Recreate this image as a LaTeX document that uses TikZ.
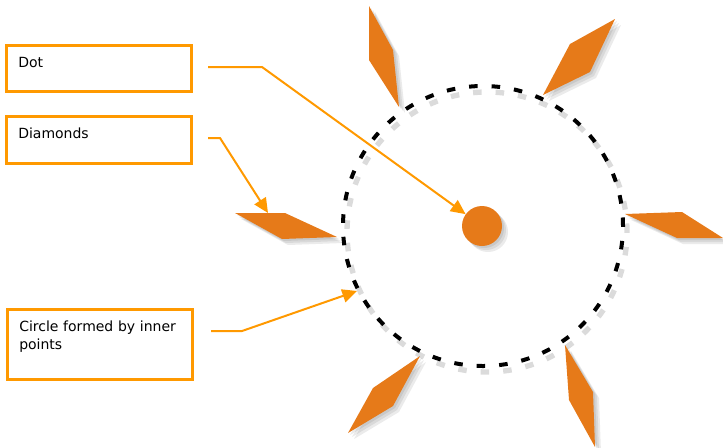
\documentclass[tikz,border=0pt]{standalone}
\usepackage{fontspec}
\setmainfont{DejaVu Sans}
\usetikzlibrary{arrows.meta}
\definecolor{boxorange}{RGB}{255,153,0}
\definecolor{gemorange}{RGB}{230,122,25}
\tikzset{
  labelbox/.style={
    draw = boxorange,
    line width = 1.9pt,
    anchor = north west,
    inner xsep = 9pt,
    inner ysep = 9pt,
    text width = 121pt,
    align = left,
    text height = 8pt,
    font = \fontsize{10.5}{13.5}\selectfont
  },
  pointer/.style={
    draw = boxorange,
    line width = 1.5pt,
    -{Triangle[length=11pt,width=10pt]}
  },
  gem/.style={
    fill = gemorange
  },
  gemshadow/.style={
    fill = black,
    opacity = 0.08
  },
  ring/.style={
    line width = 3pt,
    dash pattern = on 6.4pt off 10.5pt
  }
}

\begin{document}
\begin{tikzpicture}[x=0.75pt,y=-0.75pt]
        \useasboundingbox (0,0) rectangle (723,447);
        % dashed ring
        \draw[ring, black!14, line width=4pt, shift={(4,6)}] (483,226) circle[radius=105pt];
        \draw[ring] (483,226) circle[radius=105pt];
        % diamonds
        \foreach \ax/\ay/\bx/\by/\cx/\cy/\dx/\dy in {369/6/393/50/399/107/369/60,
                615/19/570/44/543/95/590/72, 625/214/682/212/723/238/677/238,
                235/213/285/213/337/237/282/239, 420/356/393/406/348/433/373/388,
                565/345/593/392/595/447/569/400}{
                \foreach \s in {2,4,6}{
                        \fill[gemshadow, shift={(\s,\s)}] (\ax,\ay) -- (\bx,\by) -- (\cx,\cy) -- (\dx,\dy) -- cycle;
                    }
                \fill[gem] (\ax,\ay) -- (\bx,\by) -- (\cx,\cy) -- (\dx,\dy) -- cycle;
            }
        % dot
        \foreach \s in {2,4,6}{
                \fill[gemshadow] (482+\s,226+\s) circle[radius=15pt];
            }
        \node[gem, circle, minimum size=30pt, inner sep=0pt] (dot) at (482,226) {};
        % labels
        \node[labelbox, text depth=8.5pt] (dotbox) at (5,44) {Dot};
        \node[labelbox, text depth=9.25pt] (gembox) at (5,115) {Diamonds};
        \node[labelbox, text depth=26.5pt] (ringbox) at (6,308) {Circle formed by inner points};
        % pointers
        \coordinate (dotfrom) at (208,67);
        \coordinate (dotbend) at (262,67);
        \coordinate (gemfrom) at (208,138);
        \coordinate (gembend) at (220,138);
        \coordinate (gemtip) at (268,213);
        \coordinate (ringfrom) at (211,331);
        \coordinate (ringbend) at (242,331);
        \coordinate (ringpt) at (357,291);
        \draw[pointer] (dotfrom) -- (dotbend) -- (dot);
        \draw[pointer] (gemfrom) -- (gembend) -- (gemtip);
        \draw[pointer] (ringfrom) -- (ringbend) -- (ringpt);
    \end{tikzpicture}
\end{document}
